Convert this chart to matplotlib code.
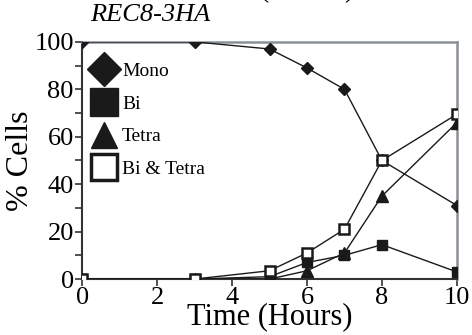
import matplotlib
matplotlib.use("Agg")
import matplotlib.pyplot as plt
from matplotlib.lines import Line2D

plt.rcParams['font.family'] = ['Liberation Serif', 'DejaVu Serif']

hours = [0, 3, 5, 6, 7, 8, 10]
mono = [100, 100, 97, 89, 80, 50, 31]
bi = [0, 0, 1, 7, 10, 14.5, 3]
tetra = [0, 0, 0, 3.5, 11, 35, 66]
bi_tetra = [0, 0, 3.5, 11, 21, 50, 69.5]

fig = plt.figure(figsize=(4.72, 3.35), dpi=100)
ax = fig.add_axes([0.174, 0.167, 0.794, 0.708])

ax.plot(hours, mono, '-D', color='#1a1a1a', lw=1, ms=6.5, zorder=3)
ax.plot(hours, bi, '-s', color='#1a1a1a', lw=1, ms=7.5, zorder=3)
ax.plot(hours, tetra, '-^', color='#1a1a1a', lw=1, ms=8, zorder=3)
ax.plot(hours, bi_tetra, '-s', color='#1a1a1a', mfc='white', mew=1.8, lw=1, ms=7.5, zorder=4)

ax.set_xlim(0, 10)
ax.set_ylim(0, 100)
ax.set_xticks([0, 2, 4, 6, 8, 10])
ax.set_yticks([0, 20, 40, 60, 80, 100])
ax.set_yticks([10, 30, 50, 70, 90], minor=True)
ax.tick_params(axis='both', which='major', direction='out', length=5, width=1.2,
               labelsize=19, pad=1, color='#333333')
ax.tick_params(axis='y', which='minor', direction='out', length=5, width=1.2, color='#333333')

for s in ['left', 'bottom']:
    ax.spines[s].set_color('#333333')
    ax.spines[s].set_linewidth(1.5)
for s in ['top', 'right']:
    ax.spines[s].set_color('#8a9099')
    ax.spines[s].set_linewidth(1.8)

ax.set_xlabel('Time (Hours)', fontsize=22, labelpad=-5)
ax.set_ylabel('% Cells', fontsize=23)
ax.yaxis.set_label_coords(-0.125, 0.5)
fig.text(0.318, 0.955, 'REC8-3HA', fontsize=19, style='italic', ha='center', va='center')
# cut-off heading at the very top
fig.text(0.551, 1.008, '(', fontsize=20, ha='left', va='baseline')
fig.text(0.748, 1.008, ')', fontsize=20, ha='right', va='baseline')

handles = [
    Line2D([], [], ls='none', marker='D', ms=17, color='#1a1a1a'),
    Line2D([], [], ls='none', marker='s', ms=20, color='#1a1a1a'),
    Line2D([], [], ls='none', marker='^', ms=19, color='#1a1a1a'),
    Line2D([], [], ls='none', marker='s', ms=19, color='#1a1a1a', mfc='white', mew=2.5),
]
ax.legend(handles, ['Mono', 'Bi', 'Tetra', 'Bi & Tetra'], loc='upper left',
          frameon=False, fontsize=14, handlelength=1.2, handletextpad=0.35,
          labelspacing=0.78, borderaxespad=0.1, bbox_to_anchor=(0.0, 0.955))

fig.savefig('out.png', dpi=100)
